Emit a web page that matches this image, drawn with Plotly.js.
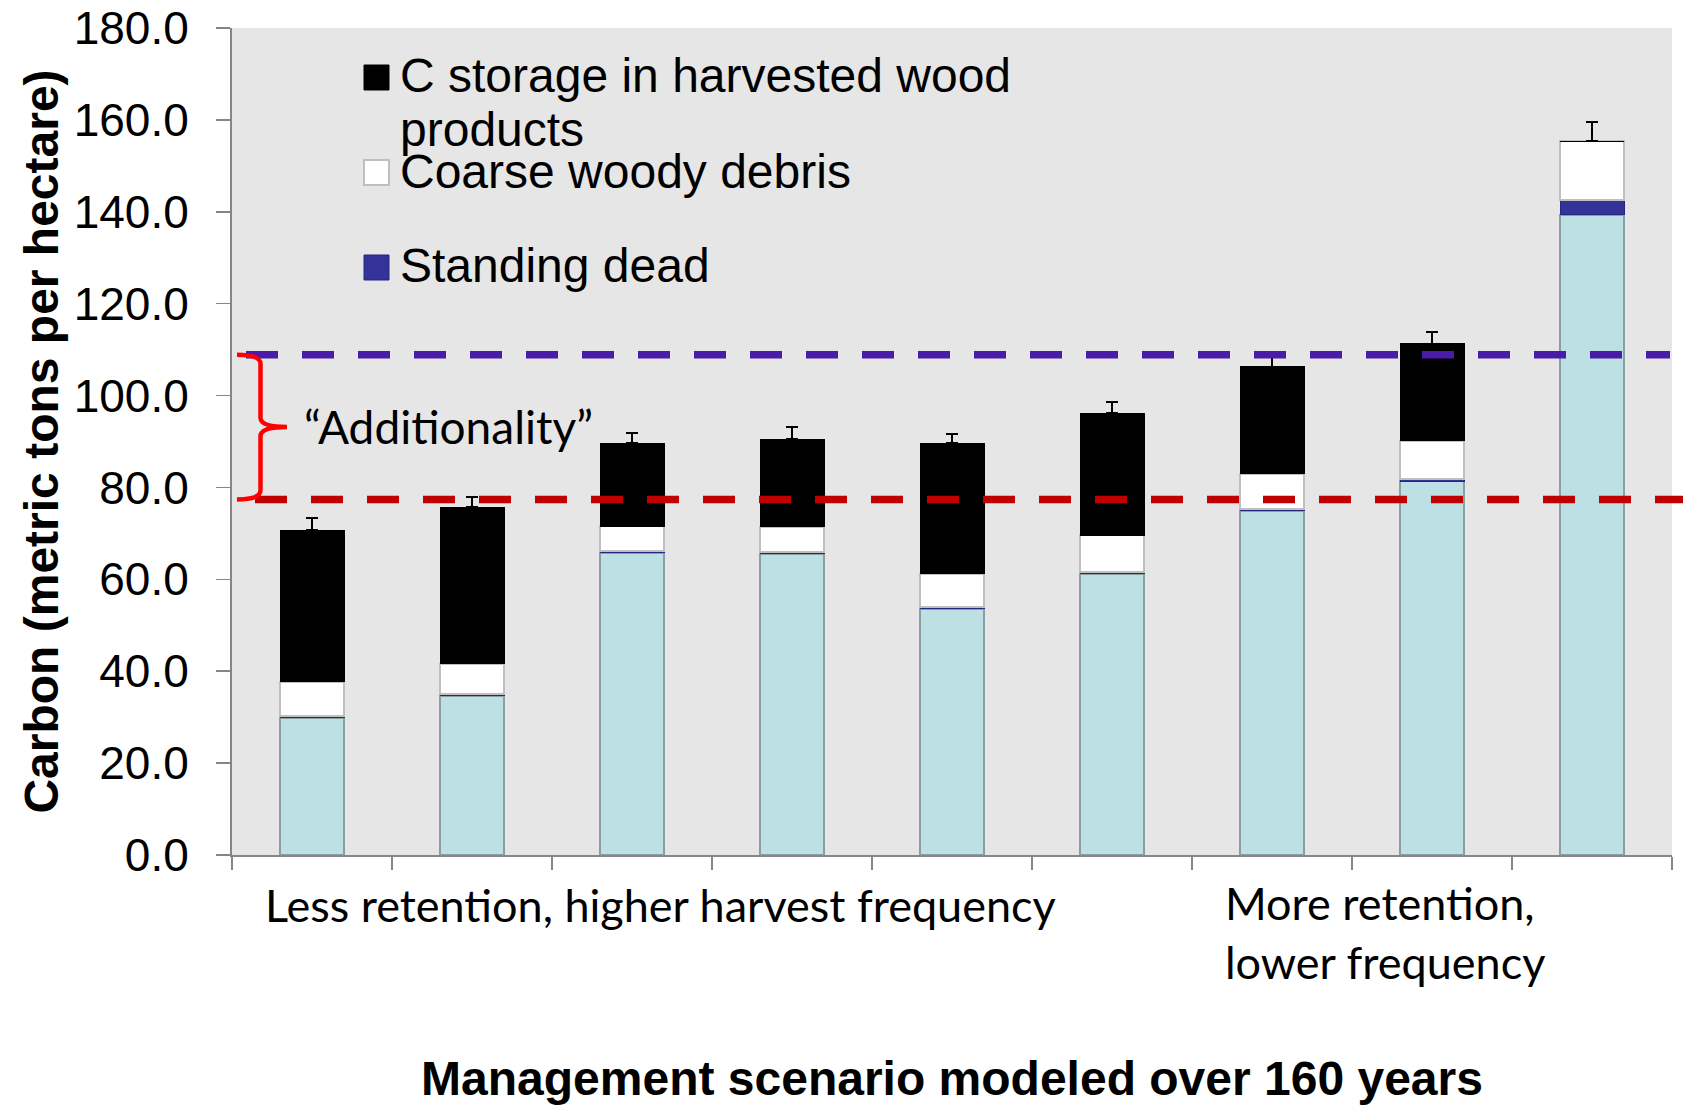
<!DOCTYPE html>
<html>
<head>
<meta charset="utf-8">
<script src="https://cdn.plot.ly/plotly-3.0.1.min.js"></script>
<style>html,body{margin:0;padding:0;background:#ffffff;}</style>
</head>
<body>
<div id="chart" style="width:1683px;height:1105px;"></div>
<script>
// ---- data (metric tons C per hectare) ----
const scenarios = ['Scenario 1','Scenario 2','Scenario 3','Scenario 4','Scenario 5','Scenario 6','Scenario 7','Scenario 8','Scenario 9'];
const liveTrees = [29.9, 34.7, 65.8, 65.6, 53.6, 61.2, 74.9, 81.4, 139.4];
const standingDead = [0.4, 0.4, 0.4, 0.4, 0.4, 0.4, 0.4, 0.4, 3.1];
const coarseWoodyDebris = [7.4, 6.5, 5.4, 5.4, 7.2, 8.0, 7.7, 8.4, 12.8];
const harvestedWoodProducts = [33.0, 34.1, 18.0, 19.1, 28.4, 26.6, 23.3, 21.1, 0.0];
const totalError = [2.6, 2.3, 2.2, 2.6, 2.1, 2.5, 2.1, 2.5, 4.3];
const baselineLevel = 77.4;      // red dashed line
const additionalityLevel = 108.9; // purple dashed line
const yTickValues = [0, 20, 40, 60, 80, 100, 120, 140, 160, 180];

const legendLabels = ['C storage in harvested wood', 'products', 'Coarse woody debris', 'Standing dead'];
const groupLabelLeft = 'Less retention, higher harvest frequency';
const groupLabelRight = 'More retention,<br>lower frequency';
const bracketLabel = '\u201CAdditionality\u201D';

const ARIAL = 'Liberation Sans, Arial, sans-serif';
const CALIBRI = 'Lato, Carlito, Calibri, sans-serif';

const traces = [
  {
    type: 'bar', name: 'Live trees', x: scenarios, y: liveTrees, showlegend: false,
    marker: {color: '#BCE0E3', line: {color: '#8A9FA3', width: 2}}
  },
  {
    type: 'bar', name: 'Standing dead', x: scenarios, y: standingDead, showlegend: false,
    marker: {color: '#333399', line: {color: '#262680', width: 1}}
  },
  {
    type: 'bar', name: 'Coarse woody debris', x: scenarios, y: coarseWoodyDebris, showlegend: false,
    marker: {color: '#FFFFFF', line: {color: '#BFBFBF', width: 2}}
  },
  {
    type: 'bar', name: 'C storage in harvested wood products', x: scenarios, y: harvestedWoodProducts, showlegend: false,
    marker: {color: '#000000', line: {color: '#000000', width: 1}},
    error_y: {
      type: 'data', symmetric: false, array: totalError,
      arrayminus: totalError.map(() => 0),
      color: '#000000', thickness: 2, width: 6
    }
  }
];

// pixel helpers for paper coordinates (plot area 232..1672 x, 28..855 y)
const L = 232, T = 28, W = 1440, H = 827;
const px = v => (v - L) / W;
const py = v => (T + H - v) / H;

const shapes = [
  // reference lines
  {type: 'line', xref: 'paper', yref: 'y', x0: px(255), x1: px(1683), y0: baselineLevel, y1: baselineLevel,
   line: {color: '#C00000', width: 7.5, dash: '32px,24px'}},
  {type: 'line', xref: 'paper', yref: 'y', x0: px(246), x1: px(1670), y0: additionalityLevel, y1: additionalityLevel,
   line: {color: '#4A1AA8', width: 7.5, dash: '32px,24px'}},
  // legend swatches
  {type: 'rect', xref: 'paper', yref: 'paper', x0: px(364), x1: px(389), y0: py(90), y1: py(65),
   fillcolor: '#000000', line: {color: '#000000', width: 1}},
  {type: 'rect', xref: 'paper', yref: 'paper', x0: px(364), x1: px(389), y0: py(185), y1: py(160),
   fillcolor: '#FFFFFF', line: {color: '#BFBFBF', width: 2}},
  {type: 'rect', xref: 'paper', yref: 'paper', x0: px(364), x1: px(389), y0: py(280), y1: py(255),
   fillcolor: '#333399', line: {color: '#262680', width: 1}}
];

// curly brace between the two levels
(function () {
  const mid = (baselineLevel + additionalityLevel) / 2;
  const d = 2.0;
  const xe = px(237), xv = px(260.5), xt = px(287);
  const path = `M ${xe},${additionalityLevel} Q ${xv},${additionalityLevel} ${xv},${additionalityLevel - d} ` +
    `L ${xv},${mid + d} Q ${xv},${mid} ${xt},${mid} Q ${xv},${mid} ${xv},${mid - d} ` +
    `L ${xv},${baselineLevel + d} Q ${xv},${baselineLevel} ${xe},${baselineLevel}`;
  shapes.push({type: 'path', xref: 'paper', yref: 'y', path: path, line: {color: '#FF0000', width: 4.5}});
})();

const annotations = [
  {text: legendLabels[0], x: px(399), y: py(75.5)},
  {text: legendLabels[1], x: px(399), y: py(129.5)},
  {text: legendLabels[2], x: px(399), y: py(171.7)},
  {text: legendLabels[3], x: px(399), y: py(265.7)}
].map(a => Object.assign({xref: 'paper', yref: 'paper', xanchor: 'left', yanchor: 'middle', showarrow: false,
  borderpad: 0, font: {family: ARIAL, size: 48, color: '#000000'}}, a));

annotations.push(
  {text: bracketLabel, xref: 'paper', yref: 'paper', x: px(303), y: py(426), xanchor: 'left', yanchor: 'middle',
   showarrow: false, borderpad: 0, font: {family: CALIBRI, size: 46, color: '#000000'}},
  {text: groupLabelLeft, xref: 'paper', yref: 'paper', x: px(264), y: py(905), xanchor: 'left', yanchor: 'middle',
   showarrow: false, borderpad: 0, font: {family: CALIBRI, size: 45, color: '#000000'}},
  {text: groupLabelRight, xref: 'paper', yref: 'paper', x: px(1224), y: py(932), xanchor: 'left', yanchor: 'middle',
   align: 'left', showarrow: false, borderpad: 0, font: {family: CALIBRI, size: 45, color: '#000000'}}
);

const layout = {
  width: 1683, height: 1105,
  margin: {l: L, r: 1683 - L - W, t: T, b: 1105 - T - H, pad: 0},
  paper_bgcolor: '#FFFFFF',
  plot_bgcolor: '#E6E6E6',
  barmode: 'stack',
  bargap: 0.6,
  showlegend: false,
  font: {family: ARIAL, color: '#000000'},
  xaxis: {
    type: 'category', categoryorder: 'array', categoryarray: scenarios,
    showticklabels: false, tickson: 'boundaries', ticks: 'outside', ticklen: 13, tickwidth: 1.5, tickcolor: '#868686',
    showline: true, linecolor: '#868686', linewidth: 2, showgrid: false, zeroline: false,
    title: {text: 'Management scenario modeled over 160 years', standoff: 205,
      font: {family: ARIAL, size: 48, weight: 'bold', color: '#000000'}}
  },
  yaxis: {
    range: [0, 180], tickvals: yTickValues, tickformat: '.1f',
    ticks: 'outside', ticklen: 14, tickwidth: 1.5, tickcolor: '#868686', ticklabelstandoff: 18,
    tickfont: {family: ARIAL, size: 46, color: '#000000'},
    showline: true, linecolor: '#868686', linewidth: 2, showgrid: false, zeroline: false,
    title: {text: 'Carbon (metric tons per hectare)', standoff: 0,
      font: {family: ARIAL, size: 48, weight: 'bold', color: '#000000'}}
  },
  shapes: shapes,
  annotations: annotations
};

Plotly.newPlot('chart', traces, layout, {staticPlot: true, displayModeBar: false});
</script>
</body>
</html>
